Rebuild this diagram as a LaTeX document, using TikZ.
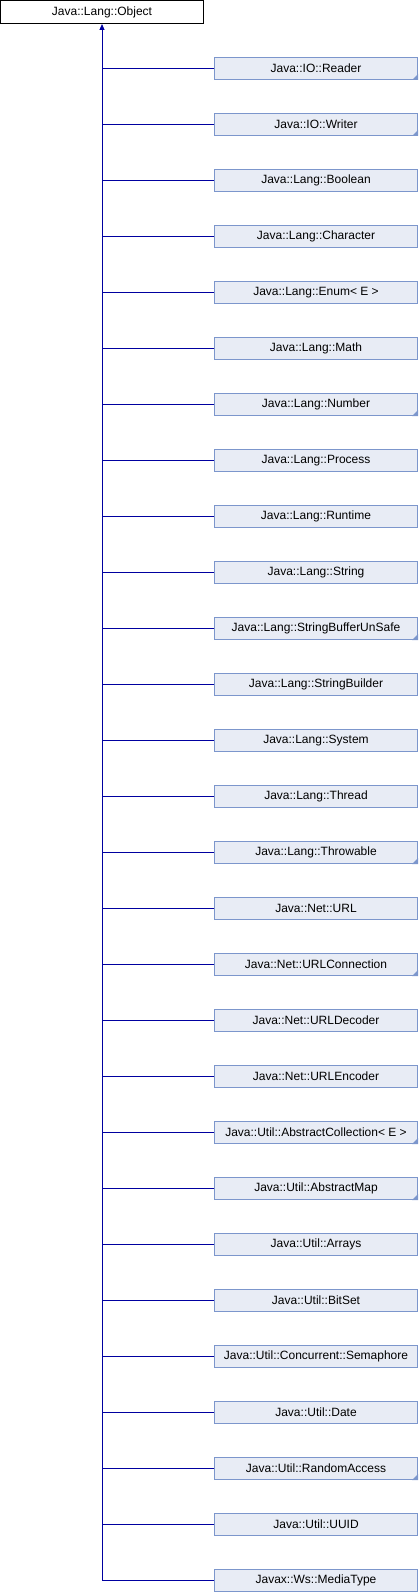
\documentclass[tikz,border=0pt]{standalone}
\usepackage{fontspec}
\setmainfont{Liberation Sans}
\usetikzlibrary{arrows.meta}
\usetikzlibrary{positioning}

\definecolor{edgeblue}{RGB}{0,0,160}
\definecolor{boxfill}{RGB}{232,236,245}
\definecolor{boxdraw}{RGB}{124,150,204}

\tikzset{
  basebox/.style={rectangle,draw=black,fill=white,line width=1pt,minimum width=203pt,minimum height=23pt,inner sep=0pt,font=\fontsize{12}{14}\selectfont},
  classbox/.style={rectangle,draw=boxdraw,fill=boxfill,line width=1pt,minimum width=203pt,minimum height=22pt,inner sep=0pt,font=\fontsize{12}{14}\selectfont},
  link/.style={edgeblue,line width=1pt},
  cornermark/.style={fill=boxdraw}
}

\begin{document}
\begin{tikzpicture}[x=1pt,y=-1pt]
\useasboundingbox (0,0) rectangle (418,1592);

\node[basebox] (Object) at (102,12) {Java::Lang::Object};

\node[classbox] (Reader) at (316,68.5) {Java::IO::Reader};
\node[classbox] (Writer) at (316,124.5) {Java::IO::Writer};
\node[classbox] (Boolean) at (316,180.5) {Java::Lang::Boolean};
\node[classbox] (Character) at (316,236.5) {Java::Lang::Character};
\node[classbox] (Enum) at (316,292.5) {Java::Lang::Enum< E >};
\node[classbox] (Math) at (316,348.5) {Java::Lang::Math};
\node[classbox] (Number) at (316,404.5) {Java::Lang::Number};
\node[classbox] (Process) at (316,460.5) {Java::Lang::Process};
\node[classbox] (Runtime) at (316,516.5) {Java::Lang::Runtime};
\node[classbox] (String) at (316,572.5) {Java::Lang::String};
\node[classbox] (StringBufferUnSafe) at (316,628.5) {Java::Lang::StringBufferUnSafe};
\node[classbox] (StringBuilder) at (316,684.5) {Java::Lang::StringBuilder};
\node[classbox] (System) at (316,740.5) {Java::Lang::System};
\node[classbox] (Thread) at (316,796.5) {Java::Lang::Thread};
\node[classbox] (Throwable) at (316,852.5) {Java::Lang::Throwable};
\node[classbox] (URL) at (316,908.5) {Java::Net::URL};
\node[classbox] (URLConnection) at (316,964.5) {Java::Net::URLConnection};
\node[classbox] (URLDecoder) at (316,1020.5) {Java::Net::URLDecoder};
\node[classbox] (URLEncoder) at (316,1076.5) {Java::Net::URLEncoder};
\node[classbox] (AbstractCollection) at (316,1132.5) {Java::Util::AbstractCollection< E >};
\node[classbox] (AbstractMap) at (316,1188.5) {Java::Util::AbstractMap};
\node[classbox] (Arrays) at (316,1244.5) {Java::Util::Arrays};
\node[classbox] (BitSet) at (316,1300.5) {Java::Util::BitSet};
\node[classbox] (Semaphore) at (316,1356.5) {Java::Util::Concurrent::Semaphore};
\node[classbox] (Date) at (316,1412.5) {Java::Util::Date};
\node[classbox] (RandomAccess) at (316,1468.5) {Java::Util::RandomAccess};
\node[classbox] (UUID) at (316,1524.5) {Java::Util::UUID};
\node[classbox] (MediaType) at (316,1580.5) {Javax::Ws::MediaType};

% corner marks on classes that have subclasses
\fill[cornermark] (Reader.south east) -- ++(-6,0) -- ++(6,-6) -- cycle;
\fill[cornermark] (Writer.south east) -- ++(-6,0) -- ++(6,-6) -- cycle;
\fill[cornermark] (Number.south east) -- ++(-6,0) -- ++(6,-6) -- cycle;
\fill[cornermark] (StringBufferUnSafe.south east) -- ++(-6,0) -- ++(6,-6) -- cycle;
\fill[cornermark] (Throwable.south east) -- ++(-6,0) -- ++(6,-6) -- cycle;
\fill[cornermark] (URLConnection.south east) -- ++(-6,0) -- ++(6,-6) -- cycle;
\fill[cornermark] (AbstractCollection.south east) -- ++(-6,0) -- ++(6,-6) -- cycle;
\fill[cornermark] (AbstractMap.south east) -- ++(-6,0) -- ++(6,-6) -- cycle;
\fill[cornermark] (RandomAccess.south east) -- ++(-6,0) -- ++(6,-6) -- cycle;

% trunk
\draw[link,-{Triangle[length=6pt,width=5pt]}] (MediaType.west -| Object.south) -- (Object.south);

% branches
\draw[link] (Reader.west) -- (Reader.west -| Object.south);
\draw[link] (Writer.west) -- (Writer.west -| Object.south);
\draw[link] (Boolean.west) -- (Boolean.west -| Object.south);
\draw[link] (Character.west) -- (Character.west -| Object.south);
\draw[link] (Enum.west) -- (Enum.west -| Object.south);
\draw[link] (Math.west) -- (Math.west -| Object.south);
\draw[link] (Number.west) -- (Number.west -| Object.south);
\draw[link] (Process.west) -- (Process.west -| Object.south);
\draw[link] (Runtime.west) -- (Runtime.west -| Object.south);
\draw[link] (String.west) -- (String.west -| Object.south);
\draw[link] (StringBufferUnSafe.west) -- (StringBufferUnSafe.west -| Object.south);
\draw[link] (StringBuilder.west) -- (StringBuilder.west -| Object.south);
\draw[link] (System.west) -- (System.west -| Object.south);
\draw[link] (Thread.west) -- (Thread.west -| Object.south);
\draw[link] (Throwable.west) -- (Throwable.west -| Object.south);
\draw[link] (URL.west) -- (URL.west -| Object.south);
\draw[link] (URLConnection.west) -- (URLConnection.west -| Object.south);
\draw[link] (URLDecoder.west) -- (URLDecoder.west -| Object.south);
\draw[link] (URLEncoder.west) -- (URLEncoder.west -| Object.south);
\draw[link] (AbstractCollection.west) -- (AbstractCollection.west -| Object.south);
\draw[link] (AbstractMap.west) -- (AbstractMap.west -| Object.south);
\draw[link] (Arrays.west) -- (Arrays.west -| Object.south);
\draw[link] (BitSet.west) -- (BitSet.west -| Object.south);
\draw[link] (Semaphore.west) -- (Semaphore.west -| Object.south);
\draw[link] (Date.west) -- (Date.west -| Object.south);
\draw[link] (RandomAccess.west) -- (RandomAccess.west -| Object.south);
\draw[link] (UUID.west) -- (UUID.west -| Object.south);
\draw[link] (MediaType.west) -- (MediaType.west -| Object.south);

\end{tikzpicture}
\end{document}
